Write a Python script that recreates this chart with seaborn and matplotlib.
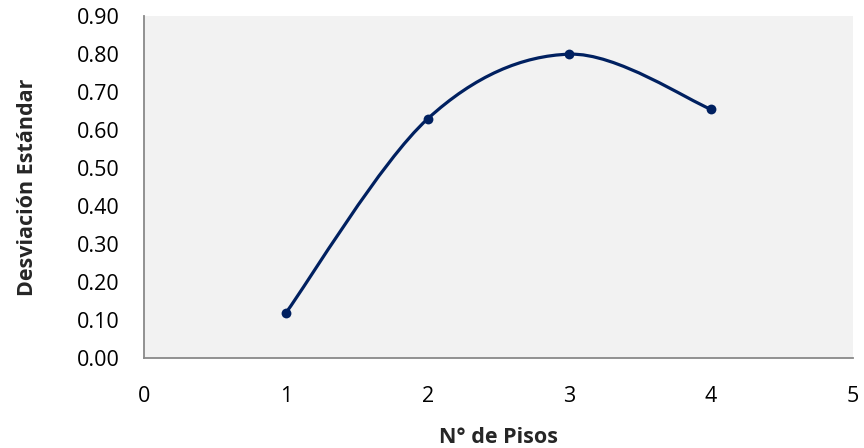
import matplotlib
matplotlib.use("Agg")
import matplotlib.pyplot as plt
import numpy as np
import pandas as pd
import seaborn as sns
from matplotlib.patches import PathPatch
from matplotlib.path import Path

pisos = [1, 2, 3, 4]
desviacion = [0.12, 0.63, 0.80, 0.655]

x_ticks = [0, 1, 2, 3, 4, 5]
y_ticks = [0.0, 0.1, 0.2, 0.3, 0.4, 0.5, 0.6, 0.7, 0.8, 0.9]

LINE_COLOR = "#002060"


def smooth_path(xs, ys):
    # Excel-style smoothed line: cubic Bezier through the points
    pts = np.column_stack([xs, ys]).astype(float)
    padded = np.vstack([pts[0], pts, pts[-1]])
    verts = [tuple(pts[0])]
    codes = [Path.MOVETO]
    for i in range(len(pts) - 1):
        p0, p1, p2, p3 = padded[i], padded[i + 1], padded[i + 2], padded[i + 3]
        c1 = p1 + (p2 - p0) / 6
        c2 = p2 - (p3 - p1) / 6
        verts += [tuple(c1), tuple(c2), tuple(p2)]
        codes += [Path.CURVE4] * 3
    return Path(verts, codes)


sns.set_style("white")
plt.rcParams["font.family"] = ["Open Sans", "DejaVu Sans"]

df = pd.DataFrame({"pisos": pisos, "desviacion": desviacion})

fig, ax = plt.subplots(figsize=(8.64, 4.48), dpi=100)
fig.subplots_adjust(left=0.167, right=0.987, top=0.964, bottom=0.2)
ax.set_facecolor("#f2f2f2")

ax.add_patch(PathPatch(smooth_path(pisos, desviacion), facecolor="none",
                       edgecolor=LINE_COLOR, lw=2.3, capstyle="round", zorder=3))
sns.scatterplot(data=df, x="pisos", y="desviacion", color=LINE_COLOR, s=50,
                edgecolor=LINE_COLOR, linewidth=0, zorder=4, ax=ax)

ax.set_xlim(0, 5)
ax.set_ylim(0, 0.9)
ax.set_xticks(x_ticks)
ax.set_yticks(y_ticks)
ax.set_xticklabels([str(t) for t in x_ticks])
ax.set_yticklabels([f"{t:.2f}" for t in y_ticks])
ax.tick_params(axis="both", length=0, labelsize=15.5, colors="black")
ax.tick_params(axis="x", pad=20)
ax.tick_params(axis="y", pad=18)

for side in ["top", "right"]:
    ax.spines[side].set_visible(False)
for side in ["left", "bottom"]:
    ax.spines[side].set_color("#898989")
    ax.spines[side].set_linewidth(1.3)

ax.set_xlabel("N° de Pisos", fontsize=15.5, fontweight="bold")
ax.set_ylabel("Desviación Estándar", fontsize=15.5, fontweight="bold")
ax.xaxis.set_label_coords(0.5, -0.2)
ax.yaxis.set_label_coords(-0.15, 0.5)

fig.savefig("out.png", dpi=100)
plt.close(fig)
